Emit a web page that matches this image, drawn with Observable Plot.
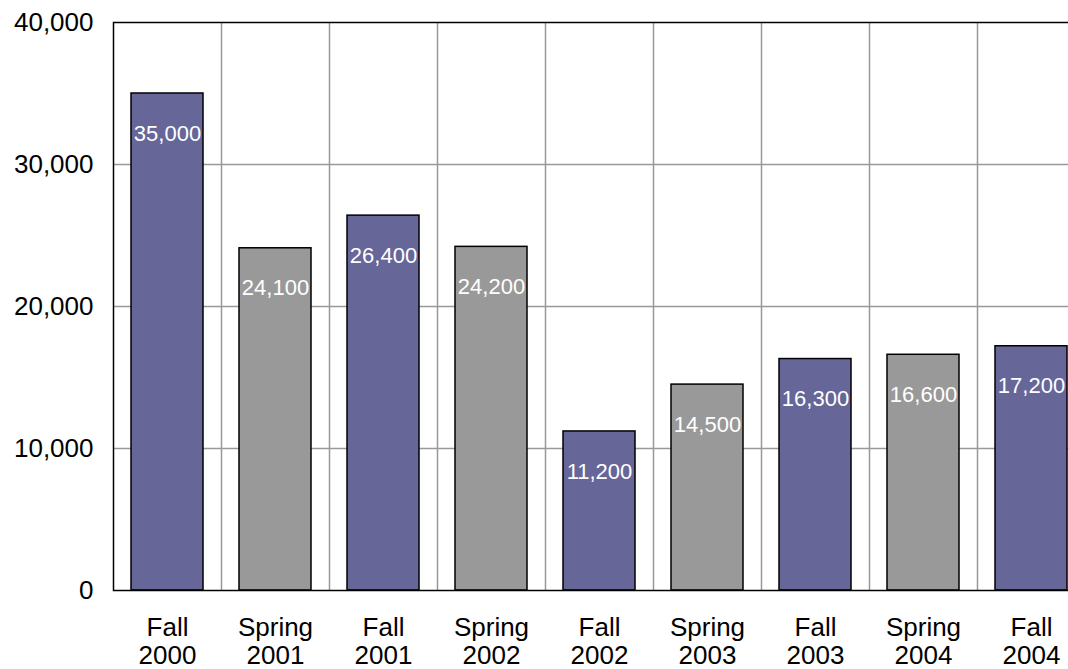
<!DOCTYPE html>
<html>
<head>
<meta charset="utf-8">
<script src="https://cdn.jsdelivr.net/npm/d3@7"></script>
<script src="https://cdn.jsdelivr.net/npm/@observablehq/plot@0.6"></script>
<style>
  html, body { margin: 0; padding: 0; background: #fff; overflow: hidden; }
  #chart svg { display: block; }
</style>
</head>
<body>
<div id="chart"></div>
<script>
const categories = ["Fall 2000", "Spring 2001", "Fall 2001", "Spring 2002", "Fall 2002", "Spring 2003", "Fall 2003", "Spring 2004", "Fall 2004"];
const values = [35000, 24100, 26400, 24200, 11200, 14500, 16300, 16600, 17200];
const yTicks = [0, 10000, 20000, 30000, 40000];
const gridValues = [10000, 20000, 30000];

const data = categories.map((c, i) => ({
  term: c,
  season: c.split(" ")[0],
  value: values[i]
}));

const fmt = d3.format(",");

const chart = Plot.plot({
  width: 1068,
  height: 669,
  marginTop: 22,
  marginBottom: 79,
  marginLeft: 113,
  marginRight: -17,
  style: {fontFamily: "'Liberation Sans', Arial, sans-serif", fontSize: "26px", color: "#000", background: "#fff"},
  x: {domain: categories, paddingInner: 1/3, paddingOuter: 1/6, label: null},
  y: {domain: [0, 40000], label: null},
  color: {domain: ["Fall", "Spring"], range: ["#666699", "#999999"]},
  marks: [
    Plot.ruleY(gridValues, {stroke: "#999999", strokeWidth: 1.5, strokeOpacity: 1}),
    Plot.ruleX(categories, {x: d => d, dx: 54, stroke: "#999999", strokeWidth: 1.5, strokeOpacity: 1}),
    Plot.barY(data, {x: "term", y: "value", fill: "season", stroke: "#000", strokeWidth: 1.5}),
    Plot.text(data, {
      x: "term", y: "value", text: d => fmt(d.value), dy: 40,
      fill: "#fff", fontSize: 22,
      fontFamily: "'Liberation Sans Narrow', 'Arial Narrow', 'Liberation Sans', sans-serif",
      ariaLabel: "value-labels"
    }),
    Plot.frame({stroke: "#000", strokeWidth: 1.5}),
    Plot.axisY({ticks: yTicks, tickSize: 0, tickPadding: 20, tickFormat: fmt, fontSize: 26}),
    Plot.axisX({tickSize: 0, tickPadding: 25, tickFormat: d => d.replace(" ", "\n"), fontSize: 26, lineHeight: 1.1})
  ]
});

// condense the in-bar value labels horizontally (narrow face not installed)
d3.select(chart).selectAll('g[aria-label="value-labels"] text').each(function() {
  const t = this.getAttribute("transform") || "";
  this.setAttribute("transform", t + " scale(0.84,1)");
});

document.getElementById("chart").appendChild(chart);
</script>
</body>
</html>
